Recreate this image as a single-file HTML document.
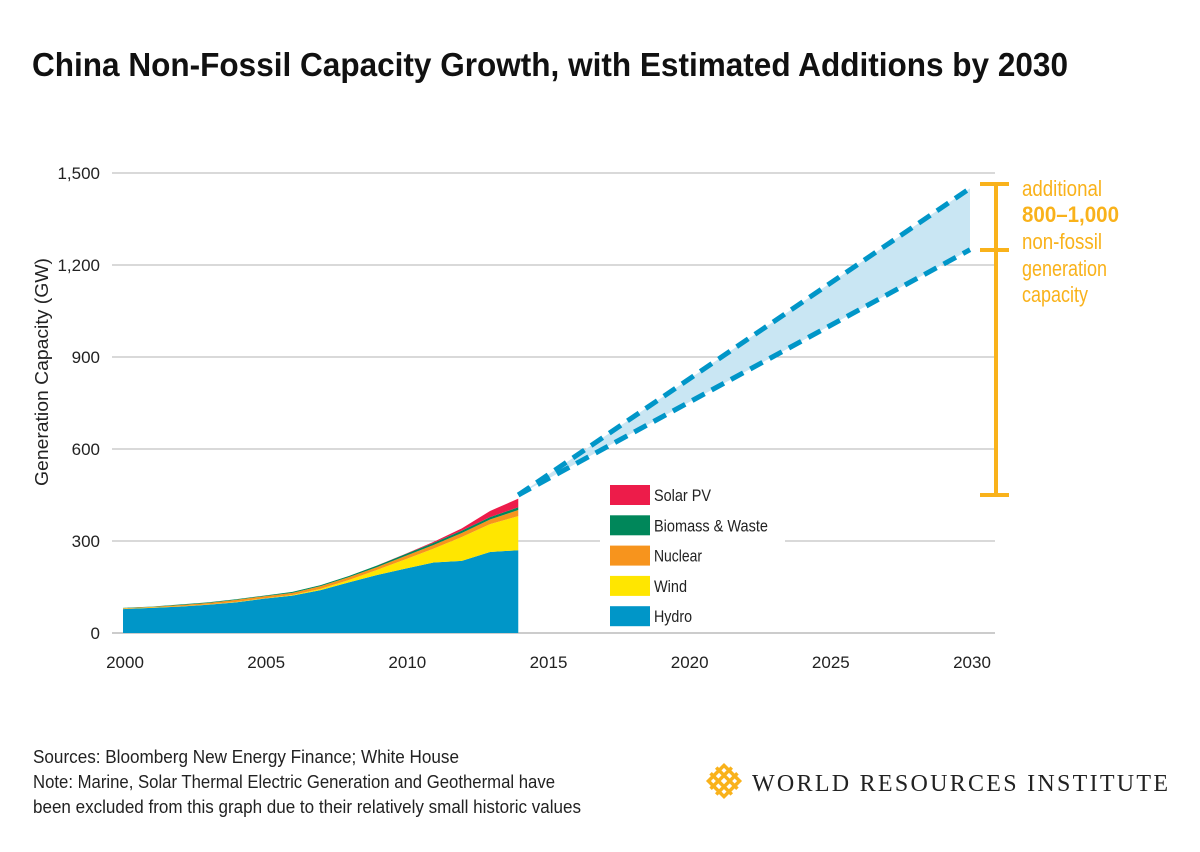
<!DOCTYPE html>
<html><head><meta charset="utf-8"><style>
html,body{margin:0;padding:0;background:#fff;}
svg{display:block;font-family:"Liberation Sans Narrow","Liberation Sans",sans-serif;}
</style></head><body>
<svg id="chart" width="1200" height="852" viewBox="0 0 1200 852" xmlns="http://www.w3.org/2000/svg">
<text x="32" y="76" font-size="33" font-weight="bold" fill="#111" textLength="1036" lengthAdjust="spacingAndGlyphs">China Non-Fossil Capacity Growth, with Estimated Additions by 2030</text>
<g id="grid"></g>
<g id="areas"></g>
<g id="proj"></g>
<g id="axes"></g>
<text transform="translate(48,372) rotate(-90)" text-anchor="middle" font-size="18" fill="#222" textLength="228" lengthAdjust="spacingAndGlyphs">Generation Capacity (GW)</text>
<g id="legend"></g>
<g stroke="#f9b21b" stroke-width="4">
<line x1="996" y1="184" x2="996" y2="495"/>
<line x1="980" y1="184" x2="1009" y2="184"/>
<line x1="980" y1="250" x2="1009" y2="250"/>
<line x1="980" y1="495" x2="1009" y2="495"/>
</g>
<g fill="#f9b21b" font-size="22">
<text x="1022" y="196" textLength="80" lengthAdjust="spacingAndGlyphs">additional</text>
<text x="1022" y="222" font-weight="bold" textLength="97" lengthAdjust="spacingAndGlyphs">800–1,000</text>
<text x="1022" y="249" textLength="80" lengthAdjust="spacingAndGlyphs">non-fossil</text>
<text x="1022" y="276" textLength="85" lengthAdjust="spacingAndGlyphs">generation</text>
<text x="1022" y="302" textLength="66" lengthAdjust="spacingAndGlyphs">capacity</text>
</g>
<g font-size="18" fill="#222">
<text x="33" y="763" textLength="426" lengthAdjust="spacingAndGlyphs">Sources: Bloomberg New Energy Finance; White House</text>
<text x="33" y="788" textLength="522" lengthAdjust="spacingAndGlyphs">Note: Marine, Solar Thermal Electric Generation and Geothermal have</text>
<text x="33" y="813" textLength="548" lengthAdjust="spacingAndGlyphs">been excluded from this graph due to their relatively small historic values</text>
</g>
<g>
<g stroke="#f9b21b" stroke-width="3.5" fill="none" transform="translate(724,781) rotate(45)">
<rect x="-11" y="-11" width="22" height="22"/>
<line x1="-4" y1="-15" x2="-4" y2="15"/><line x1="4" y1="-15" x2="4" y2="15"/>
<line x1="-15" y1="-4" x2="15" y2="-4"/><line x1="-15" y1="4" x2="15" y2="4"/>
</g>
<text x="752" y="791" font-family="'Liberation Serif',serif" font-size="24" fill="#222" textLength="416" lengthAdjust="spacing">WORLD RESOURCES INSTITUTE</text>
</g>
</svg>
<script>
const years=[2000,2001,2002,2003,2004,2005,2006,2007,2008,2009,2010,2011,2012,2013,2014];
const hydro=[78,82,86,92,100,112,122,140,165,189,210,230,235,264,270];
const wind=[1,1,1,1,1,1,2,4,8,17,30,45,78,91,111];
const nuclear=[2,2,4,5,7,7,7,9,9,9,11,12,13,15,20];
const biomass=[1,1,2,2,2,2,3,3,4,5,6,7,8,8,9];
const solar=[0,0,0,0,0,0,0,0,0,0.3,1,3,7,20,28];
const projYears=[2014,2030];
const projHigh=[450,1450];
const projLow=[450,1250];
const yTicks=[0,300,600,900,1200,1500];
const yTickLabels=["0","300","600","900","1,200","1,500"];
const xTicks=[2000,2005,2010,2015,2020,2025,2030];
const NS='http://www.w3.org/2000/svg';
const X=v=>123+(v-2000)*(970-123)/30;
const Y=v=>633-v*(460/1500);
function mk(tag,attrs,parent){const e=document.createElementNS(NS,tag);for(const k in attrs)e.setAttribute(k,attrs[k]);parent.appendChild(e);return e;}
const grid=document.getElementById('grid');
yTicks.forEach((t,i)=>{
 const l=mk('line',{x1:112,x2:995,y1:Y(t),y2:Y(t),stroke:t===0?'#999':'#b3b3b3','stroke-width':1},grid);
 
 
 const tx=mk('text',{x:100,y:Y(t)+6,'text-anchor':'end','font-size':17,fill:'#222'},grid);
 tx.textContent=yTickLabels[i];
 
 
});
const axes=document.getElementById('axes');
xTicks.forEach(t=>{
 const tx=mk('text',{x:X(t)+2,y:668,'text-anchor':'middle','font-size':17,fill:'#222'},axes);
 tx.textContent=t;
 
 
});
const series=[["hydro",hydro,"#0096c8"],["wind",wind,"#ffe600"],["nuclear",nuclear,"#f7941d"],["biomass",biomass,"#00875a"],["solar",solar,"#ed1c4a"]];
const areas=document.getElementById('areas');
let base=years.map(()=>0);
series.forEach(([nm,vals,col])=>{
 const top=base.map((b,i)=>b+vals[i]);
 let d='M'+years.map((y,i)=>X(y)+','+Y(top[i])).join('L');
 d+='L'+years.slice().reverse().map((y,j)=>{const i=years.length-1-j;return X(y)+','+Y(base[i]);}).join('L')+'Z';
 const p=mk('path',{d:d,fill:col},areas);
 
 
 base=top;
});
const proj=document.getElementById('proj');
const pd='M'+X(projYears[0])+','+Y(projHigh[0])+'L'+X(projYears[1])+','+Y(projHigh[1])+'L'+X(projYears[1])+','+Y(projLow[1])+'L'+X(projYears[0])+','+Y(projLow[0])+'Z';
const band=mk('path',{d:pd,fill:'#c9e6f3'},proj);


[[projHigh,'projection-high'],[projLow,'projection-low']].forEach(([v,n])=>{
 const l=mk('line',{x1:X(projYears[0]),y1:Y(v[0]),x2:X(projYears[1]),y2:Y(v[1]),stroke:'#0096c8','stroke-width':5,'stroke-dasharray':'14 8'},proj);
 
 
});
const legend=document.getElementById('legend');
const bg=mk('rect',{x:600,y:480,width:185,height:150,fill:'#fff'},legend);


const legItems=[["Solar PV","#ed1c4a",57],["Biomass & Waste","#00875a",114],["Nuclear","#f7941d",48],["Wind","#ffe600",33],["Hydro","#0096c8",38]];
legItems.forEach(([t,c,w],i)=>{
 const g=mk('g',{},legend);
 
 
 mk('rect',{x:610,y:485+i*30.3,width:40,height:20,fill:c},g);
 const tx=mk('text',{x:654,y:501+i*30.3,'font-size':17,fill:'#222',textLength:w,lengthAdjust:'spacingAndGlyphs'},g);
 tx.textContent=t;
});
</script>
</body></html>
